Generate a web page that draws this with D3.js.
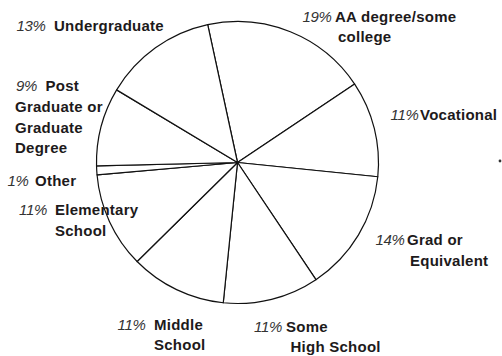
<!DOCTYPE html>
<html>
<head>
<meta charset="utf-8">
<script src="https://cdn.jsdelivr.net/npm/d3@7"></script>
<style>
  html, body { margin: 0; padding: 0; background: #fff; }
  svg { display: block; }
  .pct { font-family: "Liberation Sans", Arial, sans-serif; font-style: italic; font-size: 15px; fill: #333; text-anchor: end; letter-spacing: -0.3px; }
  .name { font-family: "Liberation Sans", Arial, sans-serif; font-weight: bold; font-size: 15px; fill: #1d1a1b; letter-spacing: 0.25px; }
</style>
</head>
<body>
<script>
// Education level shares, listed clockwise from the top of the pie
const categories = [
  "AA degree/some college",
  "Vocational",
  "Grad or Equivalent",
  "Some High School",
  "Middle School",
  "Elementary School",
  "Other",
  "Post Graduate or Graduate Degree",
  "Undergraduate"
];
const shares = [19, 11, 14, 11, 11, 11, 1, 9, 13];

// Label text, split into lines, and where each label block sits
const labelLines = [
  ["AA degree/some", "college"],
  ["Vocational"],
  ["Grad or", "Equivalent"],
  ["Some", "High School"],
  ["Middle", "School"],
  ["Elementary", "School"],
  ["Other"],
  ["Post", "Graduate or", "Graduate", "Degree"],
  ["Undergraduate"]
];
// [pct right edge, name x on first line, x of following lines, first baseline]
const labelLayout = [
  [331.5, 335, 338, 21.5],
  [418.5, 420, 420, 120],
  [404.5, 407, 410, 245],
  [282, 286, 290.5, 331.5],
  [145.5, 154, 154, 329.5],
  [47, 55, 55, 215],
  [28.5, 35, 35, 186],
  [37, 45.5, 15, 91],
  [45.5, 54, 54, 31]
];
const lineGap = 20.8;

const width = 502, height = 356;
const cx = 237.5, cy = 162.5, radius = 141;
const startDeg = -12.2;

const svg = d3.select("body").append("svg")
  .attr("width", width)
  .attr("height", height);

const pie = d3.pie()
  .sort(null)
  .value(d => d)
  .startAngle(startDeg * Math.PI / 180)
  .endAngle(startDeg * Math.PI / 180 + 2 * Math.PI);

const arc = d3.arc().innerRadius(0).outerRadius(radius);

svg.append("g")
  .attr("transform", `translate(${cx},${cy})`)
  .selectAll("path")
  .data(pie(shares))
  .join("path")
  .attr("d", arc)
  .attr("fill", "#fff")
  .attr("stroke", "#111")
  .attr("stroke-width", 1.2)
  .attr("stroke-linejoin", "round");

// Labels: italic percentage followed by the bold category name
const labels = svg.append("g");
shares.forEach((v, i) => {
  const [px, nx, lx, by] = labelLayout[i];
  labels.append("text")
    .attr("class", "pct")
    .attr("x", px)
    .attr("y", by)
    .text(`${v}%`);
  labelLines[i].forEach((line, j) => {
    labels.append("text")
      .attr("class", "name")
      .attr("x", j === 0 ? nx : lx)
      .attr("y", by + j * lineGap)
      .text(line);
  });
});

// small bullet at the right margin
svg.append("circle")
  .attr("cx", 500)
  .attr("cy", 161)
  .attr("r", 1.4)
  .attr("fill", "#333");
</script>
</body>
</html>
